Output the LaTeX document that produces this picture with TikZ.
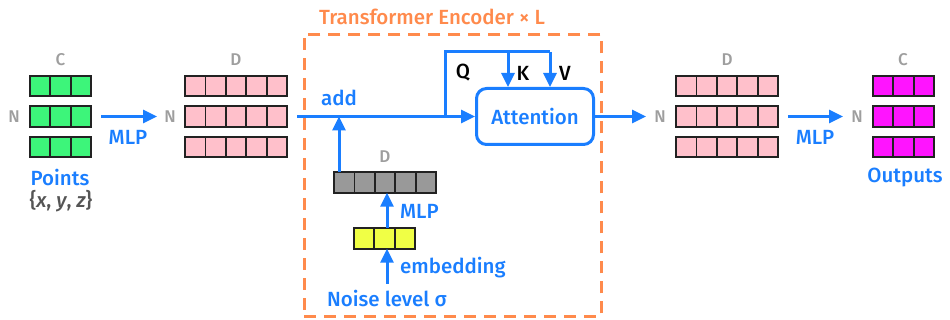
\documentclass[tikz,border=0pt]{standalone}
\usepackage{fontspec}
\setmainfont{Fira Sans}[UprightFont=* Medium, ItalicFont=* Medium Italic]
\usetikzlibrary{arrows.meta,positioning,calc}

\definecolor{flowblue}{HTML}{1A7EFF}
\definecolor{dimlabel}{HTML}{9E9E9E}
\definecolor{setgray}{HTML}{555555}
\definecolor{encorange}{HTML}{FF8A4C}
\definecolor{cellgreen}{HTML}{3DF57A}
\definecolor{cellpink}{HTML}{FFC0CB}
\definecolor{cellmagenta}{HTML}{FF14FF}
\definecolor{cellgray}{HTML}{999999}
\definecolor{cellyellow}{HTML}{F0FF45}
\definecolor{celledge}{HTML}{222222}

\tikzset{
  flow/.style={draw=flowblue, line width=3pt, -{Triangle[length=14pt,width=13pt]}},
  flowline/.style={draw=flowblue, line width=3pt},
  dimtext/.style={text=dimlabel, font=\fontsize{17}{19}\selectfont, inner sep=0pt},
  bluetext/.style={text=flowblue, font=\fontsize{20.5}{23}\selectfont, inner sep=0pt},
  qkvtext/.style={text=black, font=\fontsize{20.5}{23}\selectfont, inner sep=0pt},
  attbox/.style={draw=flowblue, line width=3pt, rounded corners=10pt},
  encbox/.style={draw=encorange, line width=2.8pt, dash pattern=on 12pt off 8pt},
  cellrowbox/.style={draw=celledge, line width=1.8pt, inner sep=0pt, outer sep=0pt},
}

% \cellrow{name}{left x}{centre y}{cells}{cell width}{fill}
\newcommand{\cellrow}[6]{%
  \node[cellrowbox, fill=#6, minimum width=#4*#5pt, minimum height=20.5pt,
        anchor=west] (#1) at (#2,#3) {};
  \foreach \k in {1,...,\numexpr#4-1\relax}{
    \draw[celledge, line width=1.8pt] ($(#1.south west)+(\k*#5,0)$) -- ($(#1.north west)+(\k*#5,0)$);
  }%
}

\begin{document}
\begin{tikzpicture}[x=1pt,y=-1pt]
\useasboundingbox (0,0) rectangle (950,320);

% input points N x C
\cellrow{gA}{30}{86}{3}{20.33}{cellgreen}
\cellrow{gB}{30}{116.5}{3}{20.33}{cellgreen}
\cellrow{gC}{30}{147}{3}{20.33}{cellgreen}
\node[dimtext] (gC1) at (60.5,60) {C};
\node[dimtext] (gN) at (14,116.5) {N};
\node[bluetext] (pts) at (60,177) {Points};
\node[text=setgray, font=\fontsize{20.5}{23}\selectfont, inner sep=0pt] (xyz) at (61,201) {\{\itshape x\upshape, \itshape y\upshape, \itshape z\upshape\}};

% lifted tokens N x D
\cellrow{pA}{185}{86}{5}{20.4}{cellpink}
\cellrow{pB}{185}{116.5}{5}{20.4}{cellpink}
\cellrow{pC}{185}{147}{5}{20.4}{cellpink}
\node[dimtext] (pD) at (236,60) {D};
\node[dimtext] (pN) at (170,116.5) {N};

\coordinate (m1s) at (101,116.5);
\coordinate (m1e) at (157,116.5);
\draw[flow] (m1s) -- (m1e);
\node[bluetext] (mlp1) at (128,137.5) {MLP};

% transformer encoder
\node[encbox, minimum width=297pt, minimum height=282pt, anchor=north west, inner sep=0pt] (enc) at (303,33) {};
\node[text=encorange, font=\fontsize{20.5}{23}\selectfont, inner sep=0pt] (enclbl) at (432,17) {Transformer Encoder × L};

\node[attbox, minimum width=117pt, minimum height=56pt, anchor=north west, inner sep=0pt] (att) at (475,87) {};
\node[bluetext] (attlbl) at (att.center) {Attention};

\coordinate (tin) at (297,116.5);
\coordinate (addpt) at (339,116.5);
\coordinate (branch) at (445,116.5);
\coordinate (qkvtop) at (445,52);
\coordinate (vtop) at (550,52);
\coordinate (ktop) at (508,52);
\draw[flow] (tin) -- (att.west |- tin);
\draw[flowline] (branch) -- (qkvtop) -- (vtop);
\draw[flow] (vtop) -- (vtop |- att.north);
\draw[flow] (ktop) -- (ktop |- att.north);
\node[qkvtext] (qlbl) at (463,73) {Q};
\node[qkvtext] (klbl) at (523,73) {K};
\node[qkvtext] (vlbl) at (565,73) {V};
\node[bluetext] (addlbl) at (339,98) {add};

% noise-level conditioning
\cellrow{nD}{334}{182.5}{5}{20.4}{cellgray}
\node[dimtext] (nDl) at (385,157) {D};
\cellrow{nE}{354}{238.5}{3}{20.33}{cellyellow}
\coordinate (nzsrc) at (387,284);
\node[bluetext] (noise) at (387,298) {Noise level σ};
\draw[flow] (nzsrc) -- (nE.south -| nzsrc);
\node[bluetext, anchor=west] (emb) at (400,268) {embedding};
\draw[flow] (nE.north -| nzsrc) -- (nD.south -| nzsrc);
\node[bluetext, anchor=west] (mlp2) at (400,211) {MLP};
\draw[flow] (nD.north -| addpt) -- (addpt);

% output tokens N x D
\cellrow{qA}{676}{86}{5}{20.4}{cellpink}
\cellrow{qB}{676}{116.5}{5}{20.4}{cellpink}
\cellrow{qC}{676}{147}{5}{20.4}{cellpink}
\node[dimtext] (qD) at (727,60) {D};
\node[dimtext] (qN) at (660,116.5) {N};
\coordinate (tout) at (646,116.5);
\draw[flow] (att.east |- tout) -- (tout);

% outputs N x C
\cellrow{oA}{873}{86}{3}{20.33}{cellmagenta}
\cellrow{oB}{873}{116.5}{3}{20.33}{cellmagenta}
\cellrow{oC}{873}{147}{3}{20.33}{cellmagenta}
\node[dimtext] (oC1) at (903,60) {C};
\node[dimtext] (oN) at (857,116.5) {N};
\node[bluetext] (outs) at (905,177) {Outputs};
\coordinate (m3s) at (788,116.5);
\coordinate (m3e) at (843,116.5);
\draw[flow] (m3s) -- (m3e);
\node[bluetext] (mlp3) at (815,137.5) {MLP};
\end{tikzpicture}
\end{document}
